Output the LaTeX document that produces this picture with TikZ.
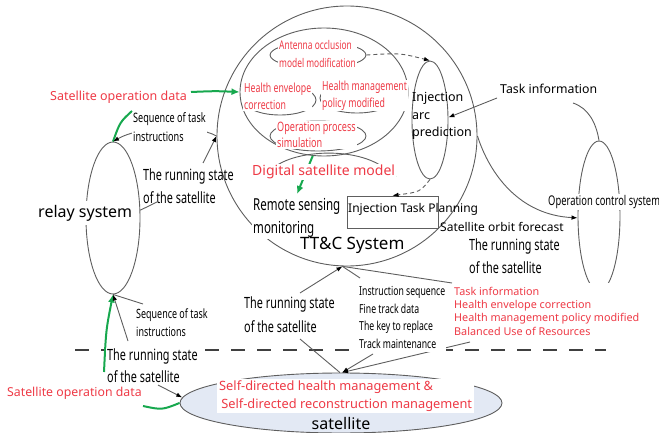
\documentclass[tikz,border=0pt]{standalone}
\usepackage{fontspec}
\setmainfont{Noto Sans}
\newfontfamily\narrowfont[FakeStretch=0.7]{Noto Sans}
\usetikzlibrary{shapes.geometric,arrows.meta}
\definecolor{redtxt}{HTML}{EE3A46}
\definecolor{greenarr}{HTML}{17A84E}
\definecolor{linegray}{HTML}{5E5E5E}
\definecolor{satfill}{HTML}{E3E9F4}
\newcommand\setfs[2]{\fontsize{#1}{#2}\selectfont}

\tikzset{
  outline/.style={draw=linegray, line width=0.9pt},
  ell/.style={ellipse, outline, inner sep=0pt},
  conn/.style={draw=linegray, line width=0.9pt},
  arr/.style={conn, -{Latex[length=6pt,width=4.5pt,color=black]}},
  garr/.style={draw=greenarr, line width=2pt, -{Latex[length=8pt,width=7pt]}},
  gline/.style={draw=greenarr, line width=2pt},
  lbl/.style={inner sep=1pt, align=left, anchor=west},
  redlbl/.style={lbl, text=redtxt},
}

\begin{document}
\begin{tikzpicture}[x=1pt,y=-1pt]
\useasboundingbox (0,0) rectangle (659,433);

% ---- systems and containers ----
\node[ell, minimum width=54pt, minimum height=152pt] (relay) at (113,218) {};
\node[ell, minimum width=42pt, minimum height=150pt] (opctl) at (599,216) {};
\node[circle, outline, inner sep=0pt, minimum size=260pt] (tcc) at (347,136) {};
\node[ell, minimum width=168pt, minimum height=128pt] (dsm) at (324,92) {};
\node[ell, minimum width=36pt, minimum height=118pt] (injarc) at (430,120) {};
\node[ell, minimum width=96pt, minimum height=26pt] (antE) at (318,55) {};
\node[ell, minimum width=72pt, minimum height=30pt] (henvE) at (280,100) {};
\node[ell, minimum width=74pt, minimum height=30pt] (hmgE) at (357,98) {};
\node[ell, minimum width=96pt, minimum height=30pt] (oppE) at (318,136) {};
\node[draw=linegray, line width=0.9pt, inner sep=0pt, minimum width=91pt, minimum height=32pt] (itpbox) at (392.5,212) {};
\node[ell, fill=satfill, minimum width=322pt, minimum height=60pt] (sat) at (341,403) {};

% arc over the digital satellite model
\draw[conn] (276,166) .. controls (300,149) and (362,147) .. (388,171);

% space / ground divider
\draw[draw=black!75, line width=1.5pt, dash pattern=on 14pt off 12pt] (75,350) -- (606,350);

% ---- connector end points ----
\coordinate (c2a) at (157,202);
\coordinate (c2b) at (203,163);
\coordinate (tiE) at (573,103);
\coordinate (tiW) at (497,98);
\coordinate (iA) at (360,278);
\coordinate (iB) at (373,354);
\coordinate (rA) at (452,283);
\coordinate (rB) at (470,342);
\coordinate (mT) at (300,293);
\coordinate (mB) at (300,339);
\coordinate (sqA) at (143,304);
\coordinate (lT) at (128,341);
\coordinate (lB) at (158,385);
\coordinate (gA) at (132,111);
\coordinate (gB) at (297,194);
\coordinate (gC) at (104,372);
\coordinate (gD) at (191,92);
\coordinate (gE) at (143,406);
\coordinate (gF) at (378,178);
\coordinate (gG) at (396,176);

% ---- data flows (green) ----
\draw[garr] (gD) .. controls (215,91) .. (dsm.west);
\draw[gline] (gA) .. controls (120,122) .. (relay.north);
\draw[garr] (dsm.260) -- (gB);
\draw[garr] (gC) .. controls (106,330) .. (relay.south);
\draw[gline] (gE) .. controls (162,410) .. (sat.west);
\draw[gline, line width=1.5pt] (gF) -- (gG);

% ---- links ----
\draw[arr] (tcc.west) .. controls (195,124) and (140,126) .. (relay.north);
\draw[conn] (relay.16) -- (c2a);
\draw[arr] (c2b) -- (tcc.west);
\draw[conn] (opctl.north) .. controls (596,122) and (588,108) .. (tiE);
\draw[arr] (tiW) -- (injarc.8);
\draw[arr] (tcc.east) .. controls (490,175) and (520,215) .. (opctl.185);
\draw[conn] (tcc.268) -- (iA);
\draw[conn] (tcc.268) -- (rA);
\draw[arr] (iB) -- (sat.88);
\draw[arr] (rB) -- (sat.88);
\draw[conn] (sat.92) -- (mB);
\draw[arr] (mT) -- (tcc.268);
\draw[conn] (relay.south) -- (sqA);
\draw[arr] (lT) -- (relay.south);
\draw[arr] (lB) -- (sat.178);
\draw[arr, dash pattern=on 4pt off 3pt] (antE.east) .. controls (400,53) .. (injarc.north);
\draw[arr, dash pattern=on 4pt off 3pt] (injarc.south) .. controls (420,192) .. (itpbox.north);

% ---- labels ----
\node[redlbl, font=\setfs{12.5}{15}] (sodA) at (49,97) {Satellite operation data};
\node[lbl, fill=white, font=\narrowfont\setfs{13}{19}] (seqA) at (132,127.5) {Sequence of task\\instructions};
\node[lbl, font=\narrowfont\setfs{15.5}{23}] (runA) at (142,186.5) {The running state\\of the satellite};
\node[lbl, fill=white, inner ysep=4pt, font=\setfs{16}{19}] (relayT) at (37,213) {relay system};
\node[redlbl, fill=white, font=\narrowfont\setfs{12}{18}] (antT) at (278,54) {Antenna occlusion\\model modification};
\node[redlbl, fill=white, font=\narrowfont\setfs{12.5}{17}] (henvT) at (243,96.5) {Health envelope\\correction};
\node[redlbl, fill=white, font=\narrowfont\setfs{12.5}{17}] (hmgT) at (321,95.5) {Health management\\policy modified};
\node[redlbl, fill=white, font=\narrowfont\setfs{13}{16}] (oppT) at (276,135) {Operation process\\simulation};
\node[lbl, font=\setfs{12.5}{17.5}] (injT) at (411,116) {Injection\\arc\\prediction};
\node[lbl, font=\setfs{12.3}{15}] (taskT) at (499,89) {Task information};
\node[redlbl, fill=white, font=\setfs{14}{17}] (dsmT) at (251,172) {Digital satellite model};
\node[lbl, fill=white, font=\narrowfont\setfs{16.5}{23}] (rsT) at (252,218) {Remote sensing\\monitoring};
\node[lbl, font=\setfs{12}{15}] (itpT) at (347,209) {Injection Task Planning};
\node[lbl, font=\setfs{12}{15}] (sofT) at (439,227) {Satellite orbit forecast};
\node[lbl, fill=white, font=\narrowfont\setfs{13.4}{16}] (ocsT) at (547,202) {Operation control system};
\node[lbl, font=\setfs{17}{20}] (tccT) at (299,245) {TT\&C System};
\node[lbl, font=\narrowfont\setfs{15.5}{23}] (runR) at (468,256.5) {The running state\\of the satellite};
\node[lbl, fill=white, inner ysep=3pt, font=\narrowfont\setfs{12.4}{17.7}] (instrT) at (358,317.5) {Instruction sequence\\Fine track data\\The key to replace\\Track maintenance};
\node[redlbl, fill=white, inner ysep=4pt, font=\setfs{10.8}{13.3}] (redT) at (453,311) {Task information\\Health envelope correction\\Health management policy modified\\Balanced Use of Resources};
\node[lbl, fill=white, font=\narrowfont\setfs{15.5}{24}] (runM) at (243,315) {The running state\\of the satellite};
\node[lbl, font=\narrowfont\setfs{12.8}{18}] (seqB) at (135,323) {Sequence of task\\instructions};
\node[lbl, fill=white, font=\narrowfont\setfs{15.5}{22}] (runL) at (106,366) {The running state\\of the satellite};
\node[redlbl, font=\setfs{12.3}{15}] (sodB) at (6,393) {Satellite operation data};
\node[redlbl, fill=white, inner sep=2pt, font=\setfs{12.8}{18}] (sdT) at (217,396) {Self-directed health management \&\\\,Self-directed reconstruction management};
\node[inner sep=1pt, font=\setfs{16}{19}] (satT) at (341,423) {satellite};
\end{tikzpicture}
\end{document}
